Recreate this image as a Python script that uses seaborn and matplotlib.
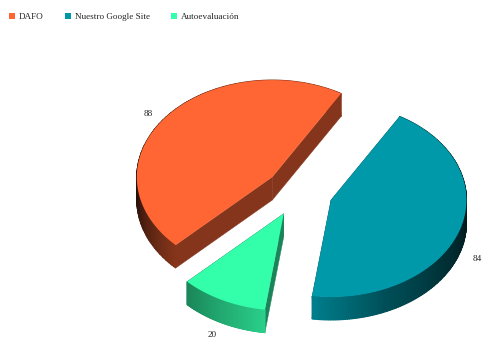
import numpy as np
import matplotlib
matplotlib.use("Agg")
import matplotlib.pyplot as plt
from matplotlib.patches import Patch
import seaborn as sns

# Exploded 3D-style pie of activity counts
categories = ["DAFO", "Nuestro Google Site", "Autoevaluación"]
values = [88, 84, 20]
colors = ["#ff6633", "#0099aa", "#33ffaa"]

# Pie geometry, in figure pixels
CENTER = np.array([299.0, 192.0])
RX, RY = 135.5, 97.0
DEPTH = 23.0
EXPLODE = 0.25
START = 225.5  # degrees clockwise from twelve o'clock

sns.set_theme(style="white")
plt.rcParams["font.family"] = ["Liberation Serif", "DejaVu Serif"]

fig = plt.figure(figsize=(4.82, 3.44), dpi=100)
ax = fig.add_axes([0, 0, 1, 1])
ax.set_xlim(0, 482)
ax.set_ylim(344, 0)
ax.axis("off")


def rim(origin, deg):
    rad = np.radians(deg)
    return np.column_stack([origin[0] + RX * np.sin(rad), origin[1] - RY * np.cos(rad)])


def rim_shade(deg):
    # Side wall brightness falls off towards the left and right extremes
    d = np.mod(deg, 360)
    return np.interp(d, [0, 35, 88, 125, 157, 187, 226, 270, 360],
                     [0.52, 0.52, 0.14, 0.33, 0.52, 0.82, 0.52, 0.15, 0.52])


def flat_wall(points, color, zorder):
    lowered = points[::-1] + np.array([0, DEPTH])
    ax.fill(*np.vstack([points, lowered]).T, color=color, lw=0.3, zorder=zorder)


angles = np.cumsum([0] + values) / sum(values) * 360 + START
for i, (value, color) in enumerate(zip(values, colors)):
    a0, a1 = angles[i], angles[i + 1]
    mid = np.radians((a0 + a1) / 2)
    direction = np.array([np.sin(mid), -np.cos(mid)])
    apex = CENTER + EXPLODE * direction * [RX, RY]
    seg_angles = np.linspace(a0, a1, 160)
    arc = rim(apex, seg_angles)
    ramp = sns.blend_palette(["#000000", color], 256, as_cmap=True)

    # Cut faces, then the curved wall with a smooth gradient, then the top
    flat_wall(np.array([apex, arc[0]]), ramp(0.52), 1)
    flat_wall(np.array([apex, arc[-1]]), ramp(0.52), 1)
    xs = np.vstack([arc[:, 0], arc[:, 0]])
    ys = np.vstack([arc[:, 1], arc[:, 1] + DEPTH])
    shade = rim_shade(seg_angles)
    ax.pcolormesh(xs, ys, np.vstack([shade, shade]), shading="gouraud",
                  cmap=ramp, vmin=0, vmax=1, zorder=2)
    ax.fill(*np.vstack([apex, arc]).T, color=color, lw=0, zorder=3)

    # Value label just outside the rim, below the wall on the lower half
    drop = 22 if direction[1] > 0 else 6
    pos = apex + 1.15 * direction * [RX, RY] + [0, drop]
    ax.text(pos[0] - 1, pos[1], str(value), fontsize=6.6, color="#222222",
            ha="center", va="center", zorder=4)

handles = [Patch(facecolor=c, edgecolor="none", label=n) for c, n in zip(colors, categories)]
ax.legend(handles=handles, ncol=3, loc="upper left", bbox_to_anchor=(9 / 482, 1 - 13 / 344),
          borderaxespad=0, borderpad=0, frameon=False, fontsize=6.6, labelcolor="#222222",
          handlelength=0.65, handleheight=0.65, handletextpad=0.44, columnspacing=2.3)

fig.savefig("out.png", dpi=100)
